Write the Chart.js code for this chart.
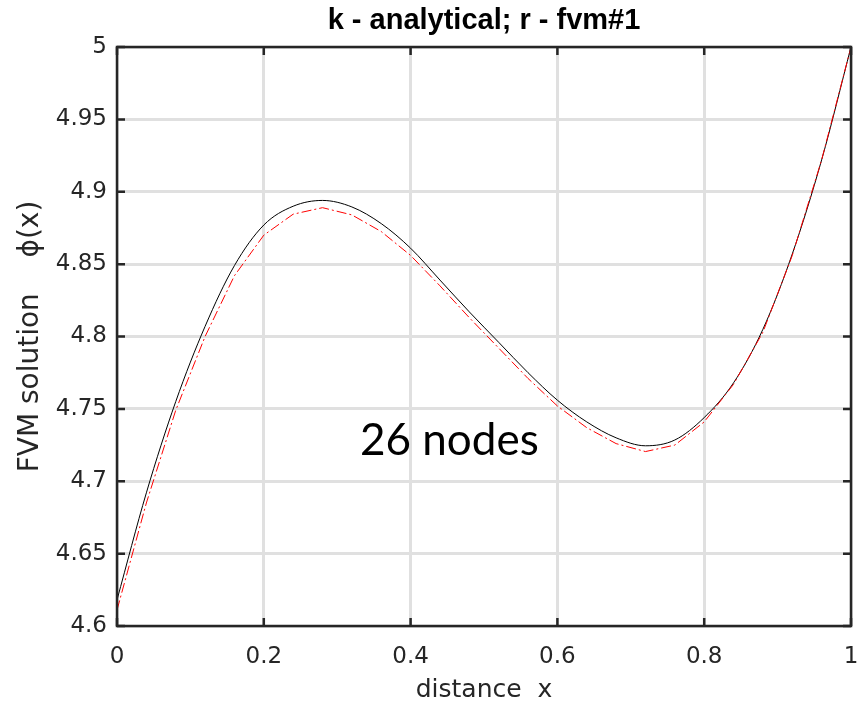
<!DOCTYPE html>
<html>
<head>
<meta charset="utf-8">
<script src="https://cdn.jsdelivr.net/npm/chart.js@4.4.1/dist/chart.umd.min.js"></script>
<style>
  html, body { margin: 0; padding: 0; background: #fff; }
  canvas { display: block; }
</style>
</head>
<body>
<canvas id="chart" width="863" height="707"></canvas>
<script>
// node positions (26 nodes) and the two solutions
const xNodes = [0, 0.04, 0.08, 0.12, 0.16, 0.20, 0.24, 0.28, 0.32, 0.36, 0.40, 0.44, 0.48,
                0.52, 0.56, 0.60, 0.64, 0.68, 0.72, 0.76, 0.80, 0.84, 0.88, 0.92, 0.96, 1.00];
const phiAnalytical = [4.618, 4.692, 4.755, 4.807, 4.849, 4.877, 4.890, 4.894, 4.8895, 4.878, 4.861, 4.839, 4.817,
                       4.796, 4.775, 4.756, 4.741, 4.730, 4.7245, 4.7285, 4.744, 4.768, 4.805, 4.857, 4.922, 5.000];
const phiFvm = [4.611, 4.685, 4.749, 4.800, 4.842, 4.870, 4.8845, 4.889, 4.884, 4.8725, 4.856, 4.835, 4.813,
                4.792, 4.771, 4.752, 4.737, 4.726, 4.7205, 4.725, 4.741, 4.767, 4.803, 4.856, 4.922, 5.000];

const xTicks = [0, 0.2, 0.4, 0.6, 0.8, 1];
const xTickLabels = ['0', '0.2', '0.4', '0.6', '0.8', '1'];
const yTicks = [4.6, 4.65, 4.7, 4.75, 4.8, 4.85, 4.9, 4.95, 5];
const yTickLabels = ['4.6', '4.65', '4.7', '4.75', '4.8', '4.85', '4.9', '4.95', '5'];

const titleText = 'k - analytical; r - fvm#1';
const xTitle = 'distance  x';
const yTitle = 'FVM solution    \u03D5(x)';
const noteText = '26 nodes';
const notePos = [0.331, 4.718];

const AXIS = '#262626';
const GRID = '#e0e0e0';

const toPoints = ys => ys.map((v, i) => ({ x: xNodes[i], y: v }));

// matlab style box with inward ticks + the text note
const framePlugin = {
  id: 'frame',
  afterDatasetsDraw(chart) {
    const { ctx, chartArea: a, scales: { x, y } } = chart;
    ctx.save();
    ctx.strokeStyle = AXIS;
    ctx.lineWidth = 2.5;
    ctx.strokeRect(a.left, a.top, a.right - a.left, a.bottom - a.top);
    ctx.beginPath();
    xTicks.forEach(v => {
      const px = x.getPixelForValue(v);
      ctx.moveTo(px, a.bottom); ctx.lineTo(px, a.bottom - 8);
      ctx.moveTo(px, a.top);    ctx.lineTo(px, a.top + 8);
    });
    yTicks.forEach(v => {
      const py = y.getPixelForValue(v);
      ctx.moveTo(a.left, py);  ctx.lineTo(a.left + 8, py);
      ctx.moveTo(a.right, py); ctx.lineTo(a.right - 8, py);
    });
    ctx.stroke();

    ctx.fillStyle = '#000';
    ctx.font = '44px Lato';
    ctx.textBaseline = 'alphabetic';
    ctx.textAlign = 'left';
    ctx.fillText(noteText, x.getPixelForValue(notePos[0]), y.getPixelForValue(notePos[1]));
    ctx.restore();
  }
};

new Chart(document.getElementById('chart'), {
  type: 'line',
  data: {
    datasets: [
      {
        label: 'analytical',
        data: toPoints(phiAnalytical),
        borderColor: '#000',
        borderWidth: 1,
        pointRadius: 0,
        cubicInterpolationMode: 'monotone',
        order: 2,
      },
      {
        label: 'fvm#1',
        data: toPoints(phiFvm),
        borderColor: '#ff0000',
        borderWidth: 1,
        borderDash: [10, 3, 2, 3],
        pointRadius: 0,
        tension: 0,
        order: 1,
      },
    ]
  },
  options: {
    responsive: false,
    devicePixelRatio: 1,
    animation: false,
    layout: { padding: { top: 0, right: 12, bottom: 0, left: 0 } },
    plugins: {
      legend: { display: false },
      tooltip: { enabled: false },
      title: {
        display: true,
        fullSize: false,
        text: titleText,
        color: '#000',
        font: { family: 'Liberation Sans', size: 29, weight: 'bold', lineHeight: 1.2 },
        padding: { top: 4, bottom: 8.2 },
      },
    },
    scales: {
      x: {
        type: 'linear',
        min: 0, max: 1,
        // fixed axis band; label overflow is covered by the layout padding
        afterFit: s => { s.height = 81; s.paddingLeft = 0; s.paddingRight = 0; },
        afterBuildTicks: s => { s.ticks = xTicks.map(v => ({ value: v })); },
        ticks: {
          color: AXIS,
          padding: 17,
          maxRotation: 0,
          font: { family: 'DejaVu Sans', size: 23 },
          callback: (v, i) => xTickLabels[i],
        },
        grid: { color: GRID, lineWidth: 3, drawTicks: false },
        border: { display: false },
        title: {
          display: true,
          text: xTitle,
          color: AXIS,
          font: { family: 'DejaVu Sans', size: 25, lineHeight: 1.2 },
          padding: { top: 0, bottom: 2 },
        },
      },
      y: {
        type: 'linear',
        min: 4.6, max: 5,
        afterFit: s => { s.width = 117; },
        afterBuildTicks: s => { s.ticks = yTicks.map(v => ({ value: v })); },
        ticks: {
          color: AXIS,
          padding: 10,
          font: { family: 'DejaVu Sans', size: 23 },
          callback: (v, i) => yTickLabels[i],
        },
        grid: { color: GRID, lineWidth: 3, drawTicks: false },
        border: { display: false },
        title: {
          display: true,
          text: yTitle,
          color: AXIS,
          font: { family: 'DejaVu Sans', size: 28, lineHeight: 1.2 },
          padding: { top: 14, bottom: 0 },
        },
      },
    },
  },
  plugins: [framePlugin],
});
</script>
</body>
</html>
